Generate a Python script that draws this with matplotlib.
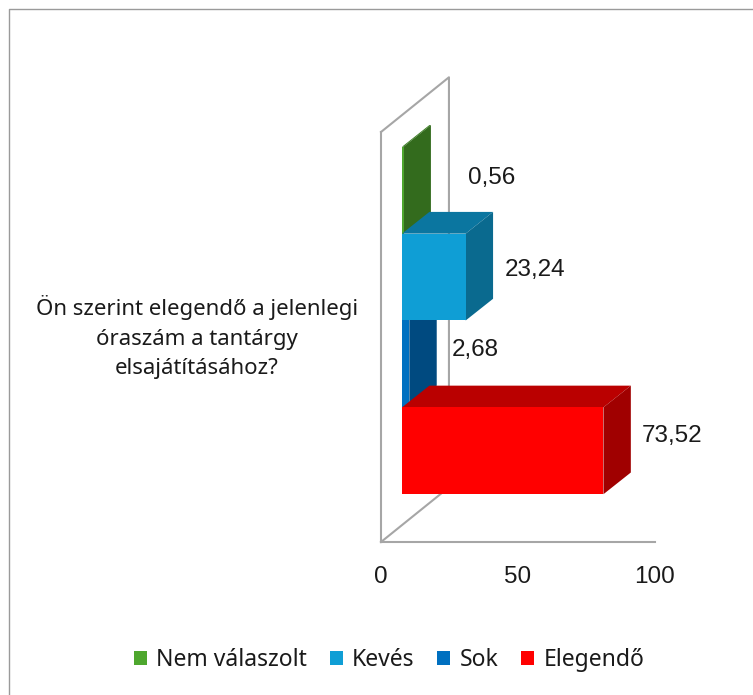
import matplotlib
matplotlib.use('Agg')
import matplotlib.pyplot as plt
from matplotlib.patches import Patch, Polygon
from matplotlib.lines import Line2D

question = 'Ön szerint elegendő a jelenlegi\nóraszám a tantárgy\nelsajátításához?'
series = ['Nem válaszolt', 'Kevés', 'Sok', 'Elegendő']
values = [0.56, 23.24, 2.68, 73.52]
labels = ['0,56', '23,24', '2,68', '73,52']
ticks = [0, 50, 100]

front_colors = ['#4EA72E', '#0F9ED5', '#0070C0', '#FF0000']
top_colors = ['#3A7D22', '#0B76A0', '#00548F', '#BA0000']
side_colors = ['#336B1D', '#0A6A8F', '#004A80', '#A00000']

W, H = 753, 695
LEFT, RIGHT, BOTTOM, TOP = 381, 655, 542, 132

# bars are one bar height per unit on y, value units on x
wall_dx, wall_dy = 24.8, 0.63
bar_x0, bar_y0 = 7.66, 0.19
depth_x, depth_y = 10.0, 0.25
ylim = (-0.86, 3.86)
label_dx = [22.3, 15.5, 13.9, 15.0]
label_dy = [0.135, 0.085, 0.155, 0.165]
draw_order = [0, 2, 1, 3]  # Kevés sits in front of the top of Sok

fig = plt.figure(figsize=(W / 100, H / 100), dpi=100)
ax = fig.add_axes([LEFT / W, 1 - BOTTOM / H, (RIGHT - LEFT) / W, (BOTTOM - TOP) / H])
ax.set_xlim(0, 100)
ax.set_ylim(*ylim)
ax.patch.set_visible(False)
for s in ['top', 'right']:
    ax.spines[s].set_visible(False)
for s in ['left', 'bottom']:
    ax.spines[s].set_color('#A6A6A6')
    ax.spines[s].set_linewidth(1.5)
ax.set_yticks([])
ax.set_xticks(ticks)
ax.tick_params(axis='x', length=0, pad=17, labelsize=17.5, labelcolor='#1a1a1a')
for t in ax.get_xticklabels():
    t.set_family('Liberation Sans')

# side wall and floor
wall = '#A6A6A6'
ax.plot([0, wall_dx, wall_dx], [ylim[1], ylim[1] + wall_dy, ylim[0] + wall_dy], color=wall, lw=1.5, clip_on=False, zorder=1)
ax.plot([0, wall_dx], [ylim[0], ylim[0] + wall_dy], color=wall, lw=1.5, clip_on=False, zorder=1)

for n, i in enumerate(draw_order):
    v = values[i]
    y0 = 3 - i - 0.5 + bar_y0
    y1 = y0 + 1
    x0 = bar_x0
    x1 = bar_x0 + v
    z = 2 + n
    front = [(x0, y0), (x1, y0), (x1, y1), (x0, y1)]
    top = [(x0, y1), (x1, y1), (x1 + depth_x, y1 + depth_y), (x0 + depth_x, y1 + depth_y)]
    side = [(x1, y0), (x1 + depth_x, y0 + depth_y), (x1 + depth_x, y1 + depth_y), (x1, y1)]
    ax.add_patch(Polygon(top, fc=top_colors[i], ec='none', clip_on=False, zorder=z))
    ax.add_patch(Polygon(side, fc=side_colors[i], ec='none', clip_on=False, zorder=z))
    ax.add_patch(Polygon(front, fc=front_colors[i], ec='none', clip_on=False, zorder=z))
    ax.text(x1 + depth_x + label_dx[i], (y0 + y1) / 2 + label_dy[i], labels[i], ha='center', va='center',
            fontsize=17.5, color='#1a1a1a', family='Liberation Sans', zorder=10)

fig.text(197 / W, 1 - 337 / H, question, ha='center', va='center', fontsize=16,
         color='#1a1a1a', family='Noto Sans', linespacing=1.55)

handles = [Patch(fc=c, ec='none') for c in front_colors]
fig.legend(handles, series, loc='center', bbox_to_anchor=(389 / W, 1 - 660 / H), ncols=4, frameon=False,
           handlelength=0.57, handleheight=0.57, handletextpad=0.4, columnspacing=1.0,
           prop={'family': 'Noto Sans', 'size': 16.5}, labelcolor='#1a1a1a')

# chart border, only the top and left edges are inside the crop
fig.add_artist(Line2D([9 / W, 9 / W, 1], [0, 1 - 9 / H, 1 - 9 / H], color='#9a9a9a', lw=1))

fig.savefig('out.png', dpi=100)
